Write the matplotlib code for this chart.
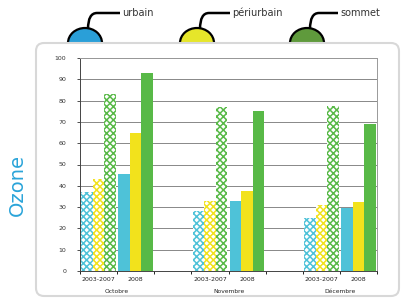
import matplotlib
matplotlib.use('Agg')
from matplotlib import pyplot as plt
from matplotlib.patches import Ellipse, FancyBboxPatch
from matplotlib.path import Path
from matplotlib.patches import PathPatch
import numpy as np

months = ['Octobre', 'Novembre', 'Décembre']
periods = ['2003-2007', '2008']
stations = ['urbain', 'périurbain', 'sommet']

urbain_0307 = [37, 28, 25]
urbain_2008 = [45.5, 33, 29.5]
periurbain_0307 = [43, 33, 31]
periurbain_2008 = [65, 37.5, 32.5]
sommet_0307 = [83, 77, 77.5]
sommet_2008 = [93, 75, 69]

colors = ['#4ec2d8', '#f2e21c', '#58b947']
dome_colors = ['#2a9fd8', '#e6e62a', '#5f9a3c']

plt.rcParams['hatch.linewidth'] = 1.1

fig = plt.figure(figsize=(4.05, 3.02), dpi=100)

# overlay in pixel units for the decorations
deco = fig.add_axes([0, 0, 1, 1])
deco.set_xlim(0, 405)
deco.set_ylim(302, 0)
deco.axis('off')

dome_x = [85, 197, 307]
label_x = [122, 232, 340]
for cx, lx, col, name in zip(dome_x, label_x, dome_colors, stations):
    deco.add_patch(Ellipse((cx, 43), 34, 30, facecolor=col, edgecolor='black', lw=1.6, zorder=1))
    stem = Path([(cx + 3, 29), (cx + 3, 13), (cx + 12, 13), (lx - 2, 13)],
                [Path.MOVETO, Path.CURVE3, Path.CURVE3, Path.LINETO])
    deco.add_patch(PathPatch(stem, facecolor='none', edgecolor='black', lw=1.8, zorder=1))
    deco.text(lx, 13, name, fontsize=7, va='center', ha='left', color='#333333')

deco.add_patch(FancyBboxPatch((36, 43), 363, 253, boxstyle='round,pad=0,rounding_size=8',
                              facecolor='white', edgecolor='#d8d8d8', lw=1.5, zorder=2))
deco.text(17, 185, 'Ozone', rotation=90, fontsize=14, color='#2aa4d9', ha='center', va='center')

ax = fig.add_axes([80 / 405, 1 - 271 / 302, 297 / 405, 213 / 302])

series_0307 = [urbain_0307, periurbain_0307, sommet_0307]
series_2008 = [urbain_2008, periurbain_2008, sommet_2008]
w = 0.31
for m in range(len(months)):
    base = m * 3
    for k in range(3):
        ax.bar(base + (k - 1) * w, series_0307[k][m], w, facecolor='white',
               edgecolor=colors[k], hatch='xxxxx', lw=0, zorder=3)
        ax.bar(base + 1 + (k - 1) * w, series_2008[k][m], w, color=colors[k], lw=0, zorder=3)

ax.set_xlim(-0.5, 7.5)
ax.set_ylim(0, 100)
ax.set_yticks(np.arange(0, 101, 10))
ax.tick_params(axis='y', labelsize=4.5, length=2, width=0.6, colors='#333333', pad=8)
ax.grid(axis='y', color='#888888', lw=0.7, zorder=0)

centers = [m * 3 + p for m in range(len(months)) for p in range(2)]
ax.set_xticks(centers)
ax.set_xticklabels(periods * len(months), fontsize=4.5, color='#222222')
ax.set_xticks(np.arange(-0.5, 8, 1), minor=True)
ax.tick_params(axis='x', which='major', length=0, pad=4)
ax.tick_params(axis='x', which='minor', length=2.5, width=0.6, direction='out')
for m, name in enumerate(months):
    ax.text(m * 3 + 0.5, -8.5, name, fontsize=4.3, ha='center', va='top', color='#222222')

for s in ['top', 'right']:
    ax.spines[s].set_color('#999999')
    ax.spines[s].set_linewidth(0.7)
ax.spines['left'].set_color('#444444')
ax.spines['bottom'].set_color('#444444')
ax.spines['left'].set_linewidth(0.7)
ax.spines['bottom'].set_linewidth(0.7)

fig.savefig('out.png', dpi=100)
